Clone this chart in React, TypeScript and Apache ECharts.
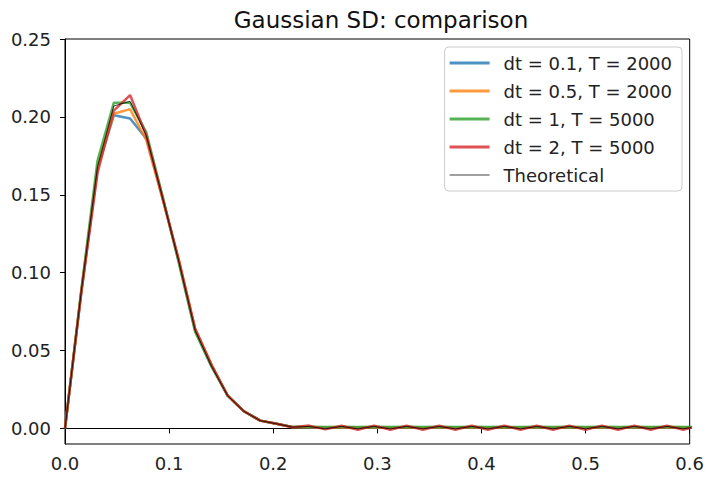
import React, { useEffect, useRef } from "react";
import * as echarts from "echarts";

const xValues = [
  0, 0.015625, 0.03125, 0.046875, 0.0625, 0.078125, 0.09375, 0.109375, 0.125, 0.140625,
  0.15625, 0.171875, 0.1875, 0.203125, 0.21875, 0.234375, 0.25, 0.265625, 0.28125, 0.296875,
  0.3125, 0.328125, 0.34375, 0.359375, 0.375, 0.390625, 0.40625, 0.421875, 0.4375, 0.453125,
  0.46875, 0.484375, 0.5, 0.515625, 0.53125, 0.546875, 0.5625, 0.578125, 0.59375, 0.609375,
];

const dt01 = [
  0, 0.087, 0.167, 0.201, 0.199, 0.186, 0.148, 0.107, 0.063, 0.040,
  0.021, 0.011, 0.005, 0.003, 0.0008, 0.0006, 0.0004, 0.0006, 0.0004, 0.0006,
  0.0004, 0.0006, 0.0004, 0.0006, 0.0004, 0.0006, 0.0004, 0.0006, 0.0004, 0.0006,
  0.0004, 0.0006, 0.0004, 0.0006, 0.0004, 0.0006, 0.0004, 0.0006, 0.0004, 0.0006,
];
const dt05 = [
  0, 0.088, 0.168, 0.202, 0.205, 0.185, 0.147, 0.108, 0.064, 0.041,
  0.021, 0.011, 0.005, 0.003, 0.0008, 0.0007, 0.0005, 0.0007, 0.0005, 0.0007,
  0.0005, 0.0007, 0.0005, 0.0007, 0.0005, 0.0007, 0.0005, 0.0007, 0.0005, 0.0007,
  0.0005, 0.0007, 0.0005, 0.0007, 0.0005, 0.0007, 0.0005, 0.0007, 0.0005, 0.0007,
];
const dt1 = [
  0, 0.089, 0.172, 0.209, 0.209, 0.190, 0.149, 0.106, 0.062, 0.040,
  0.021, 0.011, 0.005, 0.003, 0.0010, 0.0010, 0.0009, 0.0010, 0.0009, 0.0010,
  0.0009, 0.0010, 0.0009, 0.0010, 0.0009, 0.0010, 0.0009, 0.0010, 0.0009, 0.0010,
  0.0009, 0.0010, 0.0009, 0.0010, 0.0009, 0.0010, 0.0009, 0.0010, 0.0009, 0.0010,
];
const dt2 = [
  0, 0.087, 0.164, 0.204, 0.214, 0.188, 0.148, 0.108, 0.064, 0.041,
  0.021, 0.011, 0.005, 0.003, 0.0008, 0.0018, -0.0006, 0.0017, -0.0008, 0.0018,
  -0.0008, 0.0018, -0.0008, 0.0018, -0.0008, 0.0018, -0.0008, 0.0018, -0.0008, 0.0018,
  -0.0008, 0.0018, -0.0008, 0.0018, -0.0008, 0.0018, -0.0008, 0.0018, -0.0008, 0.0018,
];
const theoretical = [
  0, 0.088, 0.168, 0.207, 0.210, 0.188, 0.148, 0.107, 0.063, 0.040,
  0.021, 0.011, 0.005, 0.003, 0.0008, 0.0013, -0.0003, 0.0013, -0.0003, 0.0013,
  -0.0003, 0.0013, -0.0003, 0.0013, -0.0003, 0.0013, -0.0003, 0.0013, -0.0003, 0.0013,
  -0.0003, 0.0013, -0.0003, 0.0013, -0.0003, 0.0013, -0.0003, 0.0013, -0.0003, 0.0013,
];

const seriesNames = ["dt = 0.1, T = 2000", "dt = 0.5, T = 2000", "dt = 1, T = 5000", "dt = 2, T = 5000", "Theoretical"];
const seriesColors = ["#1f77b4", "#ff7f0e", "#2ca02c", "#d62728", "#000000"];
const yTicks = [0, 0.05, 0.1, 0.15, 0.2, 0.25];
const titleText = "Gaussian SD: comparison";

const FONT = "DejaVu Sans";
const THICK_ICON = "path://M0,0M40,18M0,7.6H40V10.4H0Z";
const THIN_ICON = "path://M0,0M40,18M0,8.5H40V9.5H0Z";

export default function App() {
  const ref = useRef<HTMLDivElement>(null);
  useEffect(() => {
    if (!ref.current) return;
    const chart = echarts.init(ref.current, null, { renderer: "svg" });
    const all = [dt01, dt05, dt1, dt2, theoretical];
    const series = all.map((vals, k) => ({
      name: seriesNames[k],
      type: "line",
      data: xValues.map((x, i) => [x, vals[i]]),
      showSymbol: false,
      symbol: "none",
      clip: true,
      lineStyle: {
        color: seriesColors[k],
        width: k === 4 ? 1 : 2.5,
        opacity: k === 4 ? 0.75 : 0.8,
      },
      itemStyle: { color: seriesColors[k], opacity: k === 4 ? 0.75 : 0.8 },
      z: 2 + k,
    }));
    chart.setOption({
      animation: false,
      backgroundColor: "#fff",
      textStyle: { fontFamily: FONT },
      graphic: [
        {
          type: "text",
          x: 381,
          y: 8,
          style: {
            text: titleText,
            font: `23px '${FONT}'`,
            fontFamily: FONT,
            fontSize: 23,
            fill: "#111",
            align: "center",
            verticalAlign: "top",
          },
        },
      ],
      grid: {
        left: 65,
        right: 16,
        top: 39,
        bottom: 34,
        show: true,
        borderColor: "#000",
        borderWidth: 1,
        backgroundColor: "transparent",
      },
      legend: {
        orient: "vertical",
        right: 25,
        top: 47,
        padding: [7, 10, 7, 5],
        itemGap: 10,
        itemWidth: 40,
        itemHeight: 18,
        backgroundColor: "rgba(255,255,255,0.8)",
        borderColor: "#cccccc",
        borderWidth: 1,
        borderRadius: 4,
        textStyle: { fontFamily: FONT, fontSize: 18, color: "#222", lineHeight: 18, padding: [0, 0, 0, 9] },
        data: seriesNames.map((n, k) => ({ name: n, icon: k === 4 ? THIN_ICON : THICK_ICON })),
      },
      xAxis: {
        type: "value",
        min: 0,
        max: 0.6,
        interval: 0.1,
        axisLine: { show: true, lineStyle: { color: "#000", width: 1 } },
        axisTick: { show: true, inside: false, length: 5, lineStyle: { color: "#000" } },
        axisLabel: {
          margin: 10,
          fontFamily: FONT,
          fontSize: 18,
          color: "#222",
          formatter: (v: number) => v.toFixed(1),
        },
        splitLine: { show: false },
      },
      yAxis: {
        type: "value",
        min: -0.01,
        max: 0.25,
        axisLine: { show: true, lineStyle: { color: "#000", width: 1 } },
        axisTick: { show: true, inside: false, length: 5, lineStyle: { color: "#000" }, customValues: yTicks },
        axisLabel: {
          margin: 14,
          fontFamily: FONT,
          fontSize: 18,
          color: "#222",
          customValues: yTicks,
          formatter: (v: number) => v.toFixed(2),
        },
        splitLine: { show: false },
      },
      series,
    });
    return () => chart.dispose();
  }, []);
  return <div ref={ref} style={{ width: 707, height: 478, position: "absolute", left: 0, top: 0 }} />;
}
